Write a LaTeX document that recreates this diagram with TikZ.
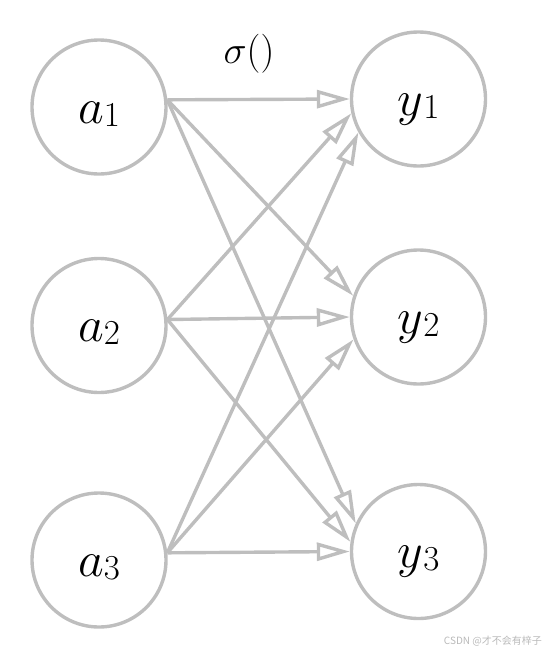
\RequirePackage{fix-cm}
\documentclass[tikz,border=0pt]{standalone}
\usepackage{fontspec}
\newfontfamily\cjkfont{Noto Sans CJK SC}
\usetikzlibrary{arrows.meta}
\definecolor{edgegray}{RGB}{190,190,190}
\definecolor{markgray}{RGB}{185,185,185}
\newcommand{\lowsub}[2]{#1\raisebox{-3pt}{$\scriptstyle #2$}}
\tikzset{
  neuron/.style={circle, draw=edgegray, line width=3.4pt, minimum size=134pt,
    inner sep=0pt, text height=32pt, text depth=0pt,
    font=\fontsize{50}{60}\selectfont},
  conn/.style={draw=edgegray, line width=3.4pt,
    -{Triangle[open, length=33pt, width=18pt]}},
}
\begin{document}
\begin{tikzpicture}[x=1pt,y=-1pt]
\useasboundingbox (0,0) rectangle (546,651);
\node[neuron] (a1) at (99,107) {$\lowsub{a}{1}$};
\node[neuron] (a2) at (99,325.5) {$\lowsub{a}{2}$};
\node[neuron] (a3) at (99,560) {$\lowsub{a}{3}$};
\node[neuron] (y1) at (418.5,99) {$\lowsub{y}{1}$};
\node[neuron] (y2) at (418.5,317) {$\lowsub{y}{2}$};
\node[neuron] (y3) at (418.5,551.5) {$\lowsub{y}{3}$};
\node[anchor=base, inner sep=0pt, font=\fontsize{39}{46}\selectfont] (sig) at (249,63) {$\sigma()$};
% connectors
\draw[conn] (a1.6) -- (y1.180);
\draw[conn] (a1.6) -- (y2.162);
\draw[conn] (a1.6) -- (y3.156);
\draw[conn] (a2.5.5) -- (y1.192);
\draw[conn] (a2.5.5) -- (y2.180);
\draw[conn] (a2.5.5) -- (y3.172);
\draw[conn] (a3.6.6) -- (y1.209.5);
\draw[conn] (a3.6.6) -- (y2.199);
\draw[conn] (a3.6.6) -- (y3.180);
\node[anchor=base east, inner sep=0pt, text=markgray, font=\cjkfont\fontsize{10}{12}\selectfont] (wm) at (542,644) {CSDN @才不会有梓子};
\end{tikzpicture}
\end{document}
